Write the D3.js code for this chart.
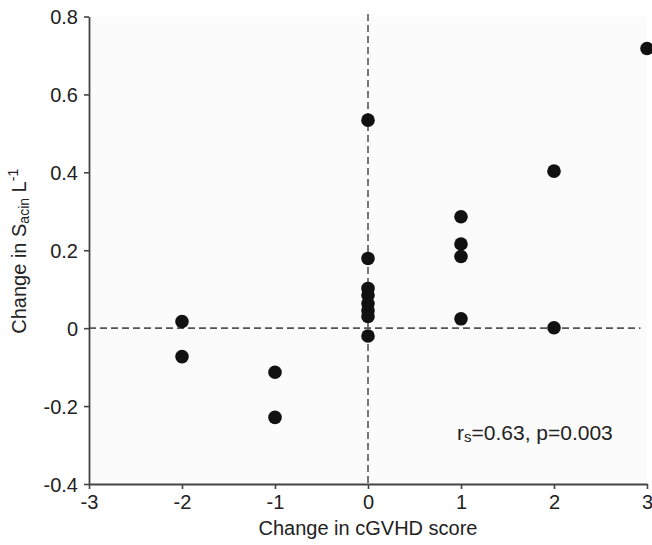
<!DOCTYPE html>
<html>
<head>
<meta charset="utf-8">
<script src="https://cdn.jsdelivr.net/npm/d3@7"></script>
<style>
  body { margin: 0; background: #fff; }
  svg text { font-family: "Liberation Sans", Arial, sans-serif; fill: #222; }
</style>
</head>
<body>
<svg id="chart" width="652" height="545"></svg>
<script>
// Change in cGVHD score (x) vs change in Sacin L^-1 (y)
const scoreChange = [-2, -2, -1, -1, 0, 0, 0, 0, 0, 0, 0, 0, 1, 1, 1, 1, 2, 2, 3];
const sacinChange = [0.017, -0.073, -0.113, -0.229, 0.534, 0.179, 0.102, 0.085, 0.063, 0.045, 0.030, -0.020, 0.286, 0.216, 0.184, 0.024, 0.403, 0.001, 0.718];
const xTicks = [-3, -2, -1, 0, 1, 2, 3];
const yTicks = [-0.4, -0.2, 0, 0.2, 0.4, 0.6, 0.8];
const xTickLabels = ["-3", "-2", "-1", "0", "1", "2", "3"];
const yTickLabels = ["-0.4", "-0.2", "0", "0.2", "0.4", "0.6", "0.8"];

const svg = d3.select("#chart");
const plotL = 89, plotR = 647, plotT = 16.5, plotB = 484;

const x = d3.scaleLinear().domain([-3, 3]).range([plotL, plotR]);
const y = d3.scaleLinear().domain([-0.4, 0.8]).range([plotB, plotT]);

// plot background
svg.append("rect")
  .attr("x", plotL).attr("y", plotT)
  .attr("width", plotR - plotL).attr("height", plotB - plotT)
  .attr("fill", "#fbfbfb");

// reference lines at zero
svg.append("line")
  .attr("x1", x(-3)).attr("x2", x(2.93))
  .attr("y1", y(0)).attr("y2", y(0))
  .attr("stroke", "#555").attr("stroke-width", 1.6)
  .attr("stroke-dasharray", "7,4");
svg.append("line")
  .attr("x1", x(0)).attr("x2", x(0))
  .attr("y1", 14).attr("y2", y(-0.4))
  .attr("stroke", "#555").attr("stroke-width", 1.6)
  .attr("stroke-dasharray", "7,4");

// axes
const yAxis = svg.append("g")
  .attr("transform", `translate(${plotL},0)`)
  .call(d3.axisLeft(y).tickValues(yTicks).tickSize(5).tickSizeOuter(0).tickPadding(6)
    .tickFormat((d, i) => yTickLabels[i]));
const xAxis = svg.append("g")
  .attr("transform", `translate(0,${plotB})`)
  .call(d3.axisBottom(x).tickValues(xTicks).tickSize(5).tickSizeOuter(0).tickPadding(6)
    .tickFormat((d, i) => xTickLabels[i]));

[yAxis, xAxis].forEach(g => {
  g.select(".domain").attr("stroke", "#444").attr("stroke-width", 1.8);
  g.selectAll(".tick line").attr("stroke", "#444").attr("stroke-width", 1.6);
  g.selectAll(".tick text")
    .attr("font-size", 20)
    .attr("fill", "#222")
    .style("font-family", "'Liberation Sans', Arial, sans-serif");
});
yAxis.selectAll(".tick text").attr("dy", "0.36em");
xAxis.selectAll(".tick text").attr("dy", "0.72em");

// points
svg.append("g").selectAll("circle")
  .data(scoreChange.map((s, i) => [s, sacinChange[i]]))
  .join("circle")
  .attr("cx", d => x(d[0]))
  .attr("cy", d => y(d[1]))
  .attr("r", 6.8)
  .attr("fill", "#111");

// axis titles
svg.append("text")
  .attr("x", x(0)).attr("y", 535)
  .attr("text-anchor", "middle")
  .attr("font-size", 20)
  .text("Change in cGVHD score");

const yLabel = svg.append("text")
  .attr("transform", `translate(26,${(plotT + plotB) / 2 + 1}) rotate(-90)`)
  .attr("text-anchor", "middle")
  .attr("font-size", 20);
yLabel.append("tspan").text("Change in S");
yLabel.append("tspan").attr("font-size", 14).attr("dy", 3).text("acin");
yLabel.append("tspan").attr("dy", -3).text(" L");
yLabel.append("tspan").attr("font-size", 14).attr("dy", -8).text("-1");

// correlation annotation
const note = svg.append("text")
  .attr("x", 457).attr("y", 440)
  .attr("font-size", 21);
note.append("tspan").text("r");
note.append("tspan").attr("font-size", 15).attr("dy", 2).text("s");
note.append("tspan").attr("dy", -2).text("=0.63, p=0.003");
</script>
</body>
</html>
